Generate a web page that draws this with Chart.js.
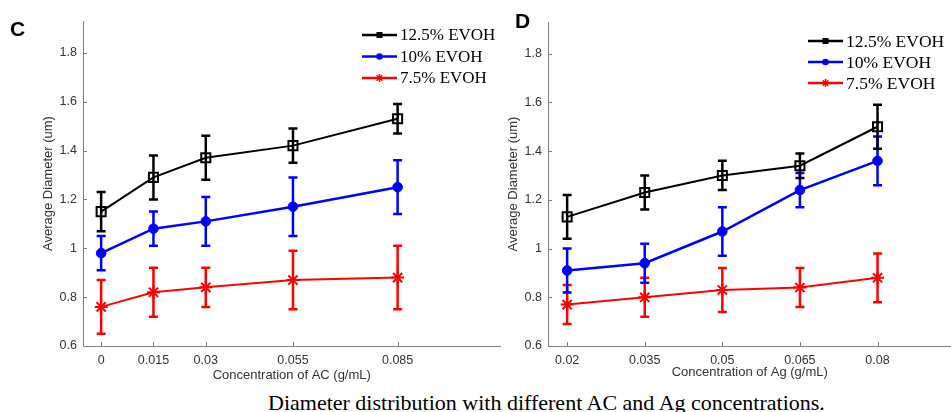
<!DOCTYPE html>
<html>
<head>
<meta charset="utf-8">
<script src="https://cdn.jsdelivr.net/npm/chart.js@4"></script>
<style>
  body { margin: 0; background: #fff; }
  #wrap { position: relative; width: 951px; height: 412px; background: #fff; overflow: hidden; }
  canvas { position: absolute; top: 0; }
  .tag { position: absolute; font: bold 21px "Liberation Sans", Arial, sans-serif; color: #000; }
  #caption { position: absolute; left: 268px; top: 392px; white-space: nowrap; line-height: 22px;
             font-size: 22px; font-family: "Liberation Serif", "Times New Roman", serif; color: #000; }
</style>
</head>
<body>
<div id="wrap">
  <canvas id="chartC" width="509" height="390" style="left:0"></canvas>
  <canvas id="chartD" width="460" height="390" style="left:500px"></canvas>
  <div class="tag" style="left:10px;top:17px">C</div>
  <div class="tag" style="left:515px;top:9px">D</div>
  <div id="caption">Diameter distribution with different AC and Ag concentrations.</div>
</div>
<script>
// Daten
const seriesLabels = ['12.5% EVOH', '10% EVOH', '7.5% EVOH'];
const yTicks = [0.6, 0.8, 1, 1.2, 1.4, 1.6, 1.8];

// Panel C: AC
const xC = [0, 0.015, 0.03, 0.055, 0.085];
const c125 = [1.15, 1.29, 1.37, 1.42, 1.53];
const c125Err = [0.08, 0.09, 0.09, 0.07, 0.06];
const c10 = [0.98, 1.08, 1.11, 1.17, 1.25];
const c10Err = [0.07, 0.07, 0.10, 0.12, 0.11];
const c75 = [0.76, 0.82, 0.84, 0.87, 0.88];
const c75Err = [0.11, 0.10, 0.08, 0.12, 0.13];

// Panel D: Ag
const xD = [0.02, 0.035, 0.05, 0.065, 0.08];
const d125 = [1.13, 1.23, 1.30, 1.34, 1.50];
const d125Err = [0.09, 0.07, 0.06, 0.05, 0.09];
const d10 = [0.91, 0.94, 1.07, 1.24, 1.36];
const d10Err = [0.09, 0.08, 0.10, 0.07, 0.10];
const d75 = [0.77, 0.80, 0.83, 0.84, 0.88];
const d75Err = [0.08, 0.08, 0.09, 0.08, 0.10];

const colors = ['#000000', '#0000ff', '#ff0000'];
const styles = [
  { pointStyle: 'rect', pointRadius: 6.4, pointBackgroundColor: 'rgba(0,0,0,0)', pointBorderWidth: 2, borderWidth: 2 },
  { pointStyle: 'circle', pointRadius: 4.8, pointBackgroundColor: '#0000ff', pointBorderWidth: 1, borderWidth: 2.5 },
  { pointStyle: 'star', pointRadius: 6.5, pointBackgroundColor: '#ff0000', pointBorderWidth: 2, borderWidth: 2 }
];

// Fehlerbalken über die y-Skala
const errorBars = {
  id: 'errorBars',
  afterDatasetDraw(chart, args) {
    const ds = chart.data.datasets[args.index];
    const ys = chart.scales.y;
    const ctx = chart.ctx;
    ctx.save();
    ctx.strokeStyle = ds.borderColor;
    ctx.lineWidth = 2.5;
    args.meta.data.forEach((pt, i) => {
      const v = ds.data[i].y, e = ds.errors[i];
      const top = ys.getPixelForValue(v + e), bot = ys.getPixelForValue(v - e);
      ctx.beginPath();
      ctx.moveTo(pt.x, top); ctx.lineTo(pt.x, bot);
      ctx.moveTo(pt.x - 4.5, top); ctx.lineTo(pt.x + 4.5, top);
      ctx.moveTo(pt.x - 4.5, bot); ctx.lineTo(pt.x + 4.5, bot);
      ctx.stroke();
    });
    ctx.restore();
  }
};

// kleine Ticks nach innen
const innerTicks = {
  id: 'innerTicks',
  afterDraw(chart) {
    const {ctx, chartArea, scales} = chart;
    ctx.save();
    ctx.strokeStyle = '#808080';
    ctx.lineWidth = 1;
    ctx.beginPath();
    scales.x.ticks.forEach(t => {
      const x = Math.round(scales.x.getPixelForValue(t.value)) + 0.5;
      ctx.moveTo(x, chartArea.bottom); ctx.lineTo(x, chartArea.bottom - 4);
    });
    scales.y.ticks.forEach(t => {
      const y = Math.round(scales.y.getPixelForValue(t.value)) + 0.5;
      ctx.moveTo(chartArea.left, y); ctx.lineTo(chartArea.left + 4, y);
    });
    ctx.stroke();
    ctx.restore();
  }
};

// Legende im MATLAB-Stil
function legendMarker(ctx, style, x, y) {
  ctx.beginPath();
  if (style === 'rect') {
    ctx.fillRect(x - 3, y - 3, 6, 6);
  } else if (style === 'circle') {
    ctx.arc(x, y, 3.3, 0, Math.PI * 2);
    ctx.fill();
  } else {
    ctx.lineWidth = 1.5;
    for (let k = 0; k < 4; k++) {
      const a = k * Math.PI / 4;
      ctx.moveTo(x - 4 * Math.cos(a), y - 4 * Math.sin(a));
      ctx.lineTo(x + 4 * Math.cos(a), y + 4 * Math.sin(a));
    }
    ctx.stroke();
  }
}

const boxLegend = {
  id: 'boxLegend',
  afterDraw(chart, args, opts) {
    const ctx = chart.ctx;
    ctx.save();
    ctx.font = opts.fontSize + 'px "Liberation Serif", "Times New Roman", serif';
    ctx.textBaseline = 'middle';
    chart.data.datasets.forEach((ds, i) => {
      const y = opts.y + i * opts.gap;
      ctx.strokeStyle = ds.borderColor;
      ctx.fillStyle = ds.borderColor;
      ctx.lineWidth = 2.5;
      ctx.beginPath();
      ctx.moveTo(opts.x, y); ctx.lineTo(opts.x + opts.len, y);
      ctx.stroke();
      legendMarker(ctx, ds.pointStyle, opts.x + opts.len / 2, y);
      ctx.fillStyle = '#000';
      ctx.fillText(ds.label, opts.x + opts.len + 3, y + 1);
    });
    ctx.restore();
  }
};

function makeChart(id, xs, series, errs, p) {
  const datasets = series.map((ys, i) => Object.assign({
    label: seriesLabels[i],
    data: xs.map((x, j) => ({ x: x, y: ys[j] })),
    errors: errs[i],
    borderColor: colors[i],
    pointBorderColor: colors[i],
    fill: false,
    tension: 0,
    clip: false
  }, styles[i]));

  const tickFont = { family: '"Liberation Sans", Arial, sans-serif', size: 12.5 };
  const titleFont = { family: '"Liberation Sans", Arial, sans-serif', size: 13 };

  return new Chart(document.getElementById(id), {
    type: 'line',
    data: { datasets: datasets },
    plugins: [errorBars, innerTicks, boxLegend],
    options: {
      responsive: false,
      animation: false,
      devicePixelRatio: 1,
      layout: { padding: { top: p.top, right: p.right, left: 0, bottom: 0 } },
      plugins: {
        legend: { display: false },
        tooltip: { enabled: false },
        boxLegend: p.legend
      },
      scales: {
        x: {
          type: 'linear',
          min: p.xMin, max: p.xMax,
          afterBuildTicks: s => { s.ticks = xs.map(v => ({ value: v })); },
          afterFit: s => { s.height = 44; },
          grid: { display: false, drawTicks: false },
          border: { display: true, color: '#808080', width: 1 },
          ticks: { color: '#333', font: tickFont, padding: 7, maxRotation: 0, autoSkip: false,
                   callback: v => String(+v.toFixed(3)) },
          title: { display: true, text: p.xTitle, color: '#333', font: titleFont,
                   padding: { top: 0, bottom: p.xTitlePad } }
        },
        y: {
          min: 0.6, max: 1.93,
          afterBuildTicks: s => { s.ticks = yTicks.map(v => ({ value: v })); },
          afterFit: s => { s.width = p.yWidth; },
          grid: { display: false, drawTicks: false },
          border: { display: true, color: '#808080', width: 1 },
          ticks: { color: '#333', font: tickFont, padding: 6,
                   callback: v => String(+v.toFixed(2)) },
          title: { display: true, text: 'Average Diameter (um)', color: '#333', font: titleFont,
                   padding: { top: p.yTitlePad, bottom: 0 } }
        }
      }
    }
  });
}

makeChart('chartC', xC, [c125, c10, c75], [c125Err, c10Err, c75Err], {
  top: 21, right: 3, xMin: -0.0052, xMax: 0.1145, yWidth: 83,
  xTitle: 'Concentration of AC (g/mL)', xTitlePad: 7, yTitlePad: 41,
  legend: { x: 362, y: 35, gap: 21.5, len: 35, fontSize: 17 }
});

makeChart('chartD', xD, [d125, d10, d75], [d125Err, d10Err, d75Err], {
  top: 22, right: 0, xMin: 0.0163, xMax: 0.0943, yWidth: 48,
  xTitle: 'Concentration of Ag (g/mL)', xTitlePad: 10, yTitlePad: 6,
  legend: { x: 308, y: 41, gap: 21, len: 35, fontSize: 17.5 }
});
</script>
</body>
</html>
